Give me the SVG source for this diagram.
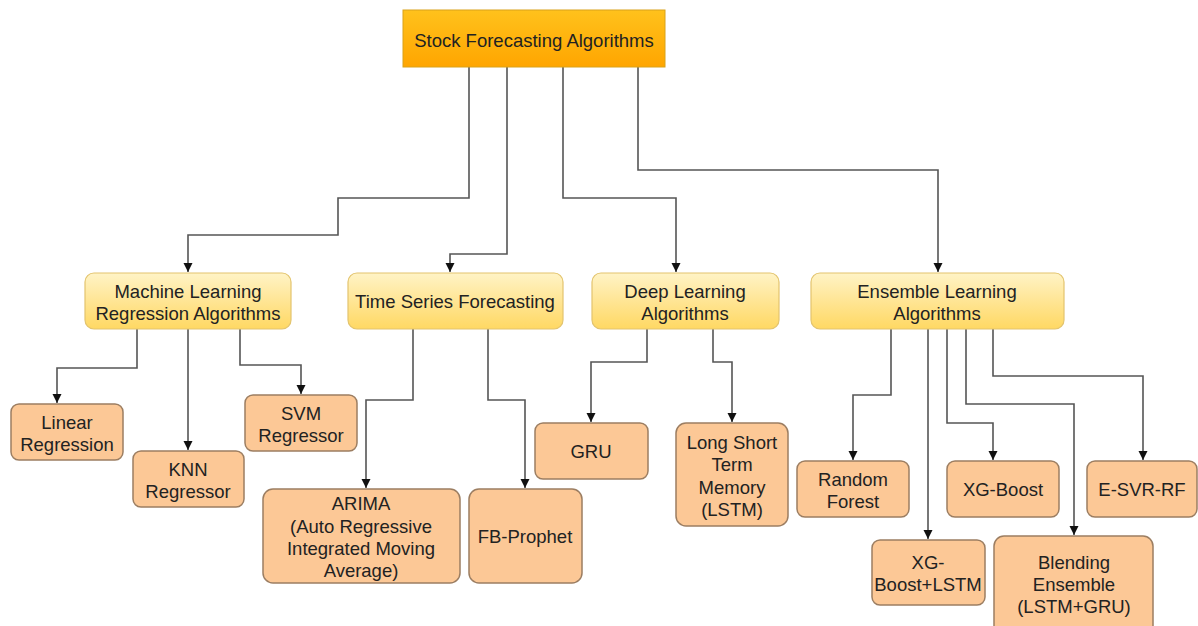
<svg xmlns="http://www.w3.org/2000/svg" width="1198" height="626" viewBox="0 0 1198 626">
<defs>
<linearGradient id="gTop" x1="0" y1="0" x2="0" y2="1"><stop offset="0" stop-color="#FFC21C"/><stop offset="1" stop-color="#FFA500"/></linearGradient>
<linearGradient id="gMid" x1="0" y1="0" x2="0" y2="1"><stop offset="0" stop-color="#FFF3C6"/><stop offset="1" stop-color="#FFD863"/></linearGradient>
<marker id="arr" markerUnits="userSpaceOnUse" markerWidth="10" markerHeight="10" refX="9" refY="4.5" orient="auto"><path d="M0,0 L9,4.5 L0,9 z" fill="#111"/></marker>
<style>
.top{fill:url(#gTop);stroke:#D9A21A;stroke-width:1}
.mid{fill:url(#gMid);stroke:#E3C46E;stroke-width:1.2}
.leaf{fill:#FCC896;stroke:#9C7E62;stroke-width:1.5}
text{font-family:"Liberation Sans",Arial,sans-serif;font-size:18.5px;fill:#222;text-anchor:middle;dominant-baseline:central}
.c{fill:none;stroke:#555;stroke-width:1.6;marker-end:url(#arr)}
</style>
</defs>
<rect width="1198" height="626" fill="#fff"/>
<g id="connectors">
<path class="c" d="M469,67 V198 H338 V235 H188 V272"/>
<path class="c" d="M507,67 V254 H450 V272"/>
<path class="c" d="M563,67 V198 H676 V272"/>
<path class="c" d="M638,67 V170 H938 V272"/>
<path class="c" d="M137,329 V368 H57 V403"/>
<path class="c" d="M188,329 V450"/>
<path class="c" d="M240,329 V365 H301 V394"/>
<path class="c" d="M413,329 V400 H366 V488"/>
<path class="c" d="M488,329 V400 H525 V488"/>
<path class="c" d="M647,329 V362 H591 V422"/>
<path class="c" d="M713,329 V362 H732 V422"/>
<path class="c" d="M891,329 V395 H853 V460"/>
<path class="c" d="M928,329 V539"/>
<path class="c" d="M947,329 V423 H993 V460"/>
<path class="c" d="M966,329 V404 H1074 V535"/>
<path class="c" d="M993,329 V376 H1143 V460"/>
</g>
<g id="n-root"><rect class="top" x="403" y="10" width="262" height="57"/><text x="534" y="40">Stock Forecasting Algorithms</text></g>
<g id="n-ml"><rect class="mid" x="85" y="273" width="206" height="56" rx="9"/><text x="188" y="291">Machine Learning</text><text x="188" y="313">Regression Algorithms</text></g>
<g id="n-ts"><rect class="mid" x="348" y="273" width="215" height="56" rx="9"/><text x="455" y="301">Time Series Forecasting</text></g>
<g id="n-dl"><rect class="mid" x="592" y="273" width="187" height="56" rx="9"/><text x="685" y="291">Deep Learning</text><text x="685" y="313">Algorithms</text></g>
<g id="n-el"><rect class="mid" x="811" y="273" width="253" height="56" rx="9"/><text x="937" y="291">Ensemble Learning</text><text x="937" y="313">Algorithms</text></g>
<g id="n-lr"><rect class="leaf" x="11" y="404" width="112" height="56" rx="8"/><text x="67" y="422">Linear</text><text x="67" y="444">Regression</text></g>
<g id="n-knn"><rect class="leaf" x="133" y="451" width="111" height="56" rx="8"/><text x="188" y="469">KNN</text><text x="188" y="491">Regressor</text></g>
<g id="n-svm"><rect class="leaf" x="245" y="395" width="112" height="56" rx="8"/><text x="301" y="413">SVM</text><text x="301" y="435">Regressor</text></g>
<g id="n-arima"><rect class="leaf" x="263" y="489" width="197" height="94" rx="10"/><text x="361" y="503">ARIMA</text><text x="361" y="526">(Auto Regressive</text><text x="361" y="548">Integrated Moving</text><text x="361" y="570">Average)</text></g>
<g id="n-fb"><rect class="leaf" x="469" y="489" width="113" height="94" rx="10"/><text x="525" y="536">FB-Prophet</text></g>
<g id="n-gru"><rect class="leaf" x="535" y="423" width="113" height="56" rx="8"/><text x="591" y="451">GRU</text></g>
<g id="n-lstm"><rect class="leaf" x="676" y="423" width="112" height="103" rx="10"/><text x="732" y="442">Long Short</text><text x="732" y="464">Term</text><text x="732" y="487">Memory</text><text x="732" y="509">(LSTM)</text></g>
<g id="n-rf"><rect class="leaf" x="797" y="461" width="112" height="56" rx="8"/><text x="853" y="479">Random</text><text x="853" y="501">Forest</text></g>
<g id="n-xgl"><rect class="leaf" x="872" y="540" width="113" height="65" rx="8"/><text x="928" y="562">XG-</text><text x="928" y="584">Boost+LSTM</text></g>
<g id="n-xgb"><rect class="leaf" x="947" y="461" width="112" height="56" rx="8"/><text x="1003" y="489">XG-Boost</text></g>
<g id="n-blend"><rect class="leaf" x="994" y="536" width="159" height="100" rx="10"/><text x="1074" y="562">Blending</text><text x="1074" y="584">Ensemble</text><text x="1074" y="606">(LSTM+GRU)</text></g>
<g id="n-esvr"><rect class="leaf" x="1087" y="461" width="110" height="56" rx="8"/><text x="1142" y="489">E-SVR-RF</text></g>
</svg>
